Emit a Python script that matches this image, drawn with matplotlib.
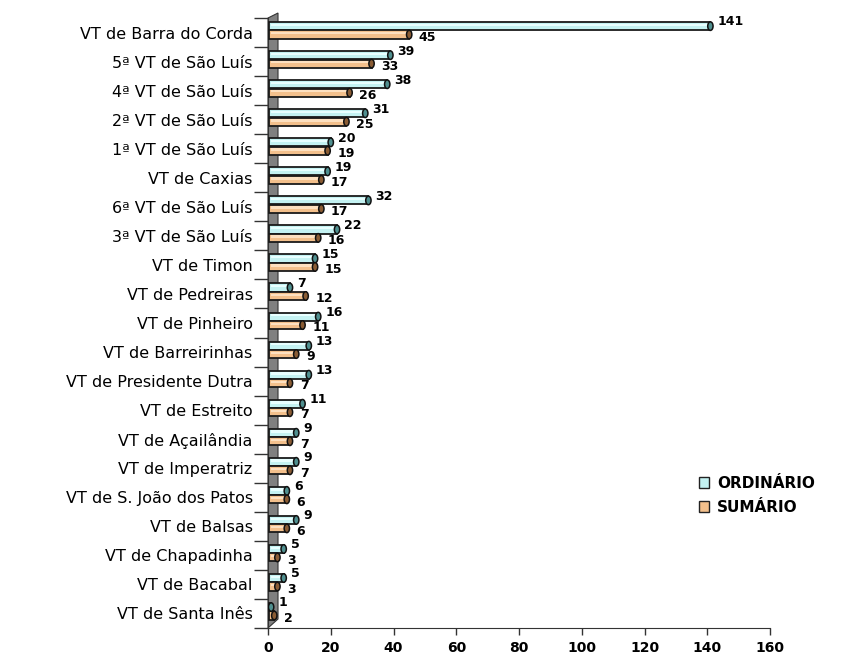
import matplotlib
matplotlib.use("Agg")
import matplotlib.pyplot as plt
from matplotlib.patches import Ellipse, Polygon, Rectangle, Patch
import numpy as np

plt.rcParams['font.family'] = ['DejaVu Sans']

categories = [
    "VT de Barra do Corda", "5ª VT de São Luís", "4ª VT de São Luís",
    "2ª VT de São Luís", "1ª VT de São Luís", "VT de Caxias",
    "6ª VT de São Luís", "3ª VT de São Luís", "VT de Timon",
    "VT de Pedreiras", "VT de Pinheiro", "VT de Barreirinhas",
    "VT de Presidente Dutra", "VT de Estreito", "VT de Açailândia",
    "VT de Imperatriz", "VT de S. João dos Patos", "VT de Balsas",
    "VT de Chapadinha", "VT de Bacabal", "VT de Santa Inês",
]
ordinario = [141, 39, 38, 31, 20, 19, 32, 22, 15, 7, 16, 13, 13, 11, 9, 9, 6, 9, 5, 5, 1]
sumario = [45, 33, 26, 25, 19, 17, 17, 16, 15, 12, 11, 9, 7, 7, 7, 7, 6, 6, 3, 3, 2]
xticks = [0, 20, 40, 60, 80, 100, 120, 140, 160]

fig = plt.figure(figsize=(8.52, 6.54), dpi=100)
ax = fig.add_axes([268/852, 26/654, 502/852, 610/654])

n = len(categories)
ypos = np.arange(n)[::-1]
h = 0.28
off_o = 0.22
off_s = -0.07

col_o, cap_o = '#c4f2f2', '#4f8f8f'
col_s, cap_s = '#f3c08c', '#8a5c34'
hi_o, hi_s = '#e8ffff', '#fde0c0'

# wall
wall = Polygon([(0, 0), (0, 1), (10/502, 1 + 5/610), (10/502, 9/610)],
               closed=True, transform=ax.transAxes, facecolor='#808080',
               edgecolor='#333333', linewidth=0.8, clip_on=False, zorder=1)
ax.add_patch(wall)

capw = 1.7
for vals, off, col, cap, hi in [(ordinario, off_o, col_o, cap_o, hi_o),
                                 (sumario, off_s, col_s, cap_s, hi_s)]:
    for y, v in zip(ypos, vals):
        yc = y + off
        ax.add_patch(Rectangle((0.4, yc - h/2), v - 0.4, h, facecolor=col,
                               edgecolor='#1a1a1a', linewidth=1.3, zorder=3))
        ax.add_patch(Rectangle((0.8, yc + h*0.02), max(v - 1.6, 0.1), h*0.28,
                               facecolor=hi, edgecolor='none', zorder=3.5))
        ax.add_patch(Ellipse((v, yc), capw, h * 1.05, facecolor=cap,
                             edgecolor='#111111', linewidth=1.1, zorder=4))

for y, v in zip(ypos, ordinario):
    ax.annotate(str(v), (v, y + off_o), xytext=(5, 3), textcoords='offset points',
                ha='left', va='center', fontsize=9, fontweight='bold', zorder=5)
for y, v in zip(ypos, sumario):
    ax.annotate(str(v), (v, y + off_s), xytext=(7, -2), textcoords='offset points',
                ha='left', va='center', fontsize=9, fontweight='bold', zorder=5)

ax.set_xlim(0, 160)
ax.set_ylim(-0.5, n - 0.5)
ax.set_xticks(xticks)
ax.set_xticklabels([str(t) for t in xticks], fontsize=10, fontweight='bold')
ax.set_yticks(ypos)
ax.set_yticklabels(categories, fontsize=11.5)
ax.set_yticks(np.arange(-0.5, n, 1.0), minor=True)
ax.tick_params(axis='y', which='major', length=0, pad=11)
ax.tick_params(axis='y', which='minor', length=10, width=1, color='#333333')
ax.tick_params(axis='x', length=5, width=1, color='#333333', pad=4)
for s in ['top', 'right']:
    ax.spines[s].set_visible(False)
for s in ['left', 'bottom']:
    ax.spines[s].set_color('#333333')

handles = [Patch(facecolor=col_o, edgecolor='#222222', label='ORDINÁRIO'),
           Patch(facecolor=col_s, edgecolor='#222222', label='SUMÁRIO')]
fig.legend(handles=handles, loc='upper left', bbox_to_anchor=(685/852, 1 - 462/654),
           frameon=False, prop={'weight': 'bold', 'size': 11},
           handlelength=0.7, handleheight=0.7, handletextpad=0.5, labelspacing=0.6)

fig.savefig('out.png', dpi=100, facecolor='white')
